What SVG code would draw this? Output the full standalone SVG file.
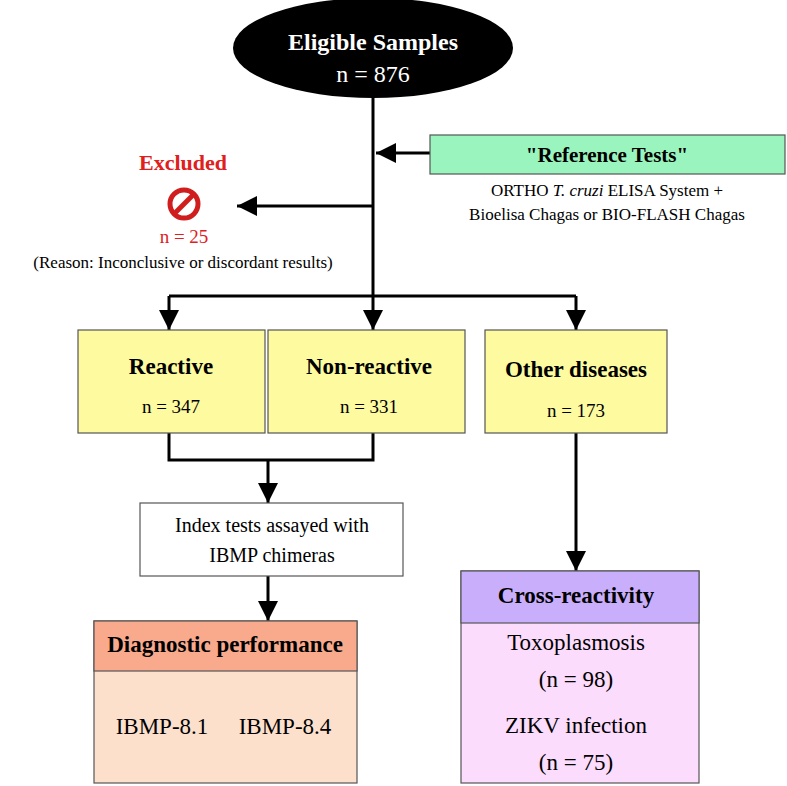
<svg xmlns="http://www.w3.org/2000/svg" width="787" height="786" viewBox="0 0 787 786">
<style>
text{font-family:"Liberation Serif",serif;font-size:21px;fill:#000;text-anchor:middle}
.b{font-weight:bold}
.ln{stroke:#000;stroke-width:3;fill:none}
.bx{stroke:#555;stroke-width:1.2}
</style>
<defs>
<marker id="ar" viewBox="0 0 10 10" refX="10" refY="5" markerWidth="22" markerHeight="20" orient="auto" markerUnits="userSpaceOnUse"><path d="M0,0L10,5L0,10z" fill="#000"/></marker></defs>
<rect width="787" height="786" fill="#fff"/>
<g id="connectors" class="ln">
<path d="M373,96V296"/>
<path d="M430,153H376" marker-end="url(#ar)"/>
<path d="M373,206H237" marker-end="url(#ar)"/>
<path d="M169,296H576"/>
<path d="M169,296V330" marker-end="url(#ar)"/>
<path d="M373,296V330" marker-end="url(#ar)"/>
<path d="M576,296V330" marker-end="url(#ar)"/>
<path d="M169,433V460H373V433"/>
<path d="M268,460V503" marker-end="url(#ar)"/>
<path d="M268,576V621" marker-end="url(#ar)"/>
<path d="M576,433V571" marker-end="url(#ar)"/>
</g>
<g id="eligible"><ellipse cx="373" cy="48" rx="140" ry="50"/>
<text x="373" y="50" class="b" style="fill:#fff;font-size:24px">Eligible Samples</text>
<text x="373" y="82" style="fill:#fff;font-size:24px">n = 876</text></g>
<g id="reference"><rect x="430" y="135" width="355" height="39" fill="#99f5bd" class="bx"/>
<text x="607" y="162" class="b">"Reference Tests"</text>
<text x="607" y="196" style="font-size:17px">ORTHO <tspan font-style="italic">T. cruzi</tspan> ELISA System  +</text>
<text x="607" y="220" style="font-size:17px">Bioelisa Chagas or BIO-FLASH Chagas</text></g>
<g id="excluded"><text x="183" y="170" class="b" style="fill:#e0201c;font-size:22px">Excluded</text>
<circle cx="184" cy="204" r="14" fill="none" stroke="#d01d1d" stroke-width="5"/>
<line x1="174" y1="214" x2="194" y2="194" stroke="#d01d1d" stroke-width="5"/>
<text x="184" y="243" style="fill:#e0201c;font-size:19px">n = 25</text>
<text x="183" y="268" style="font-size:17px">(Reason: Inconclusive or discordant results)</text></g>
<g id="reactive"><rect x="78" y="330" width="187" height="103" fill="#fdfa9f" class="bx"/>
<text x="171" y="374" class="b" style="font-size:23px">Reactive</text><text x="171" y="413" style="font-size:19px">n = 347</text></g>
<g id="nonreactive"><rect x="268" y="330" width="197" height="103" fill="#fdfa9f" class="bx"/>
<text x="369" y="374" class="b" style="font-size:23px">Non-reactive</text><text x="369" y="413" style="font-size:19px">n = 331</text></g>
<g id="other"><rect x="485" y="330" width="182" height="103" fill="#fdfa9f" class="bx"/>
<text x="576" y="377" class="b" style="font-size:23px">Other diseases</text><text x="576" y="417" style="font-size:19px">n = 173</text></g>
<g id="index"><rect x="140" y="503" width="263" height="73" fill="#fff" class="bx"/>
<text x="272" y="532" style="font-size:20px">Index tests assayed with</text><text x="272" y="562" style="font-size:20px">IBMP chimeras</text></g>
<g id="diagnostic"><rect x="94" y="621" width="263" height="162" fill="#fde0cc" class="bx"/>
<rect x="94" y="621" width="263" height="50" fill="#f9a98c" class="bx"/>
<text x="225" y="652" class="b" style="font-size:23px">Diagnostic performance</text>
<text x="162" y="734" style="font-size:23px">IBMP-8.1</text><text x="285" y="734" style="font-size:23px">IBMP-8.4</text></g>
<g id="cross"><rect x="461" y="571" width="238" height="212" fill="#fcdcfc" class="bx"/>
<rect x="461" y="571" width="238" height="52" fill="#c9aefc" class="bx"/>
<text x="576" y="603" class="b" style="font-size:23px">Cross-reactivity</text>
<text x="576" y="650" style="font-size:23px">Toxoplasmosis</text><text x="576" y="687" style="font-size:23px">(n = 98)</text>
<text x="576" y="733" style="font-size:23px">ZIKV infection</text><text x="576" y="770" style="font-size:23px">(n = 75)</text></g>
</svg>
